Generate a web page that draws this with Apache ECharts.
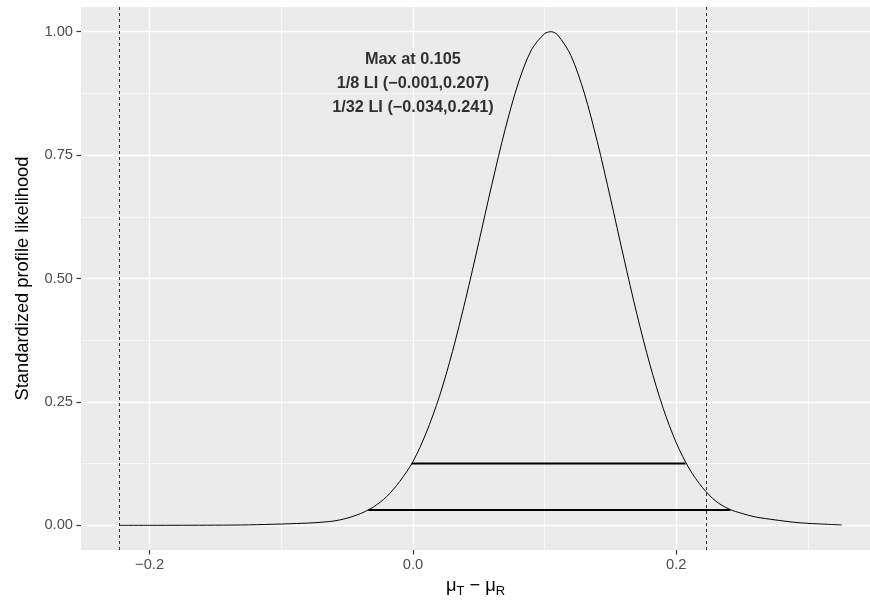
<!DOCTYPE html>
<html>
<head>
<meta charset="utf-8">
<script src="https://cdn.jsdelivr.net/npm/echarts@6/dist/echarts.min.js"></script>
<style>
html,body{margin:0;padding:0;background:#fff;}
#c{width:870px;height:601px;}
</style>
</head>
<body>
<div id="c"></div>
<script>
// Profile likelihood curve
const muDiff = [-0.2231, -0.2, -0.15, -0.125, -0.1, -0.085, -0.075, -0.06, -0.05, -0.04, -0.034, -0.03, -0.02, -0.01, 0, 0.01, 0.02, 0.03, 0.04, 0.05, 0.06, 0.07, 0.08, 0.09, 0.1, 0.105, 0.11, 0.12, 0.13, 0.14, 0.15, 0.16, 0.17, 0.18, 0.19, 0.2, 0.21, 0.22, 0.23, 0.24, 0.25, 0.26, 0.275, 0.29, 0.3, 0.3256];
const likelihood = [0, 0.00002, 0.0003, 0.0009, 0.0026, 0.0040, 0.0052, 0.0088, 0.0145, 0.0235, 0.0312, 0.0370, 0.0580, 0.0890, 0.1290, 0.1870, 0.2603, 0.3519, 0.4579, 0.5734, 0.6912, 0.8021, 0.8960, 0.9633, 0.9960, 1.0, 0.9930, 0.9514, 0.8768, 0.7772, 0.6626, 0.5434, 0.4286, 0.3251, 0.2373, 0.1670, 0.1140, 0.0760, 0.0490, 0.0330, 0.0240, 0.0170, 0.0110, 0.0060, 0.0040, 0.0007];
// Likelihood intervals
const li8 = {level: 0.125, lo: -0.001, hi: 0.207};
const li32 = {level: 0.03125, lo: -0.034, hi: 0.241};
const maxAt = 0.105;
// Equivalence limits
const limits = [-0.2231, 0.2231];
// Ticks / gridlines
const xMajor = [-0.2, 0, 0.2];
const xMinor = [-0.1, 0.1, 0.3];
const yMajor = [0, 0.25, 0.5, 0.75, 1];
const yMinor = [0.125, 0.375, 0.625, 0.875];
const annText = ['Max at 0.105', '1/8 LI (\u22120.001,0.207)', '1/32 LI (\u22120.034,0.241)'];
const annPos = [0, 0.894];

const FONT = 'Liberation Sans, Arial, Helvetica, sans-serif';
const chart = echarts.init(document.getElementById('c'), null, {renderer: 'canvas'});

function fmtX(v) {
  if (Math.abs(v) < 1e-9) return '0.0';
  return (v < 0 ? '\u2212' : '') + Math.abs(v).toFixed(1);
}

const gridLines = [];
xMinor.forEach(v => gridLines.push({xAxis: v, lineStyle: {color: '#fff', width: 0.65, type: 'solid'}}));
yMinor.forEach(v => gridLines.push({yAxis: v, lineStyle: {color: '#fff', width: 0.65, type: 'solid'}}));
xMajor.forEach(v => gridLines.push({xAxis: v, lineStyle: {color: '#fff', width: 1.3, type: 'solid'}}));
yMajor.forEach(v => gridLines.push({yAxis: v, lineStyle: {color: '#fff', width: 1.3, type: 'solid'}}));

chart.setOption({
  animation: false,
  backgroundColor: '#fff',
  grid: {left: 81, right: 0, top: 7, bottom: 51, show: true, backgroundColor: '#EBEBEB', borderWidth: 0, containLabel: false, outerBoundsMode: 'none'},
  xAxis: {
    type: 'value', min: -0.2521, max: 0.3471, position: 'bottom',
    axisLine: {show: false, onZero: false},
    splitLine: {show: false},
    axisTick: {show: true, customValues: xMajor, length: 4.5, lineStyle: {color: '#333333', width: 1.2}},
    axisLabel: {customValues: xMajor, formatter: fmtX, color: '#4D4D4D', fontSize: 14.7, fontFamily: FONT, margin: 7},
    name: '{m|\u03bc}{s|T}{m| \u2212 \u03bc}{s|R}',
    nameLocation: 'middle', nameGap: 27,
    nameTextStyle: {
      color: '#000', fontFamily: FONT,
      rich: {
        m: {fontSize: 18.3, fontFamily: FONT, color: '#000', verticalAlign: 'top', padding: [0,0,0,0]},
        s: {fontSize: 13, fontFamily: FONT, color: '#000', verticalAlign: 'top', padding: [8,0,0,0]}
      }
    }
  },
  yAxis: {
    type: 'value', min: -0.05, max: 1.05, position: 'left',
    axisLine: {show: false, onZero: false},
    splitLine: {show: false},
    axisTick: {show: true, customValues: yMajor, length: 4.5, lineStyle: {color: '#333333', width: 1.2}},
    axisLabel: {customValues: yMajor, formatter: v => v.toFixed(2), color: '#4D4D4D', fontSize: 14.7, fontFamily: FONT, margin: 8},
    name: 'Standardized profile likelihood',
    nameLocation: 'middle', nameGap: 49,
    nameTextStyle: {color: '#000', fontSize: 18.3, fontFamily: FONT}
  },
  series: [
    {
      type: 'line', z: 0, silent: true, symbol: 'none',
      data: [[0, 0]], lineStyle: {width: 0, opacity: 0},
      markLine: {silent: true, z: 0, precision: 4, symbol: ['none', 'none'], label: {show: false}, animation: false, data: gridLines}
    },
    {
      type: 'line', z: 3, silent: true, symbol: 'none',
      data: [[0, 0]], lineStyle: {width: 0, opacity: 0},
      markLine: {
        silent: true, z: 3, precision: 5, symbol: ['none', 'none'], label: {show: false}, animation: false,
        data: limits.map(v => ({xAxis: v, lineStyle: {color: '#000', width: 0.8, type: [3, 3]}}))
      }
    },
    {
      type: 'line', z: 8, silent: true, symbol: 'none', smooth: 0.3,
      data: muDiff.map((x, i) => [x, likelihood[i]]),
      lineStyle: {color: '#000', width: 1}
    },
    {
      type: 'line', z: 8, silent: true, symbol: 'none',
      data: [[li8.lo, li8.level], [li8.hi, li8.level]],
      lineStyle: {color: '#000', width: 2}
    },
    {
      type: 'line', z: 8, silent: true, symbol: 'none',
      data: [[li32.lo, li32.level], [li32.hi, li32.level]],
      lineStyle: {color: '#000', width: 2}
    },
    {
      type: 'scatter', z: 9, silent: true, symbolSize: 0,
      data: [annPos],
      label: {
        show: true, position: 'inside', formatter: annText.join('\n'),
        color: '#000', fontSize: 16.3, fontWeight: 'bold', fontFamily: FONT, lineHeight: 24, align: 'center'
      }
    }
  ]
});
</script>
</body>
</html>
